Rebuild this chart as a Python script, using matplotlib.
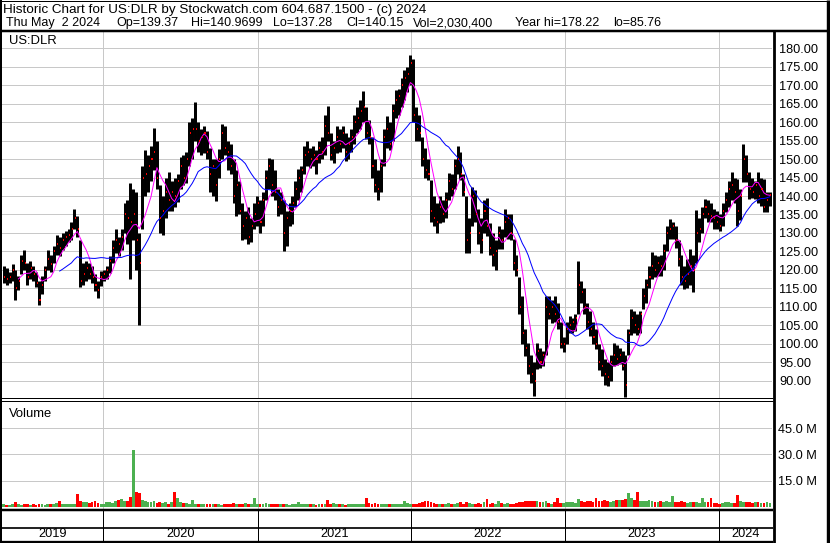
import matplotlib
matplotlib.use('Agg')
import matplotlib.pyplot as plt
import matplotlib.dates as mdates
from matplotlib.collections import LineCollection
import pandas as pd

plt.rcParams['font.family'] = ['Liberation Sans', 'DejaVu Sans']

W, H = 830, 543

# weekly bars, last bar is Thu May 2 2024
week_hi = [
    121, 120.5, 119.5, 121.5, 120, 118.5, 124, 125.5, 122, 122.5,
    121, 119.5, 117, 118.5, 121, 125.5, 124, 126.5, 129.5, 129,
    130, 130.5, 131, 133, 136.5, 134.5, 128, 122, 122.5, 122,
    121, 118.8, 117, 119.7, 120.1, 121, 123.7, 128.2, 131, 129,
    131, 138, 139, 143.5, 141.8, 141, 130, 148, 152.5, 151,
    153.5, 158.5, 155, 143, 140, 145,
    146.5, 144, 145, 146, 150.5, 151, 152, 160, 161, 165.5,
    160, 158, 159, 157.5, 153, 150, 150, 152.7, 159.5, 159,
    155, 154, 150, 147, 144, 138, 136, 137, 134, 138,
    140, 139, 141, 147, 150.4, 150, 147, 142, 141, 139,
    136, 138, 140, 144, 147.3, 148, 153.5, 155, 153, 153.5,
    152.5, 155,
    156, 162, 164.2, 157, 155, 158.8, 158, 159, 157, 156,
    158, 162, 164, 166, 168.3, 164, 160.6, 156, 150, 147,
    150, 158, 161.5, 160, 165, 168.7, 169, 172, 174, 175,
    178.2, 177, 164, 162, 156, 153, 150, 144.4, 140, 138,
    140, 139, 141, 146.2, 146, 150, 153.4, 152, 146, 140,
    134, 142.3, 141.7,
    136.4, 134, 139, 139.5, 132.8, 130, 128, 132, 131, 136.4,
    135, 135, 128.3, 124, 118, 113, 104, 100.4, 97, 95,
    100.4, 99, 98, 113, 113, 112, 113, 111, 106, 102,
    106, 107.6, 107, 108, 122.4, 117, 115, 111, 109, 106,
    104, 100, 98.6, 96, 95, 97, 100.4, 99.6, 99, 98,
    97, 104.1,
    109.5, 109, 108, 109, 115, 117.6, 121, 124.8, 124, 123.9,
    124, 127, 132, 133.8, 133, 132, 128, 124, 121, 123,
    125.7, 124, 136.1, 134, 137, 139.2, 139, 138, 136.5, 136,
    135, 138, 141, 144, 146.4, 145, 144.6, 142, 154.1, 151,
    146.4, 145, 144, 146.4, 145, 144.6, 141, 141.0,
]
week_lo = [
    116.5, 116, 116.5, 117, 112, 114.5, 119, 120, 116, 117.5,
    117, 115.5, 110.5, 113.5, 117, 120, 119.5, 122, 124, 123.7,
    125.5, 126.5, 127.5, 128, 131, 129, 115.5, 116, 117, 117.5,
    116.5, 114.3, 112.5, 115.6, 117, 117.5, 119.3, 122, 124.6, 123.7,
    125.5, 130, 127, 117.5, 128, 120, 105, 131, 140, 141,
    144, 147, 141.8, 130, 129.5, 134,
    136, 136, 137, 138.5, 142, 143, 143.5, 148, 150, 155,
    152, 151, 151.5, 150, 141, 140, 138.7, 145, 150, 151,
    147, 146, 138, 134.5, 135, 128, 128.5, 127, 127.5, 131,
    132, 130, 132, 139, 142, 140, 139, 134.5, 135, 125,
    126.5, 132, 132.5, 137, 139, 141, 146, 148, 147.5, 148,
    146, 149,
    150, 151, 155, 149.8, 149, 151.6, 152, 153, 149.5, 150,
    152, 154, 157, 158, 160, 155.5, 154, 145, 141, 139,
    141, 148, 153, 152.5, 155, 161, 162, 164, 166, 168,
    170, 160, 155, 155, 148, 145, 144.4, 133, 131.8, 130,
    132.7, 133, 134, 139, 140, 142, 146, 144.4, 140, 124.6,
    124.7, 132, 133,
    127, 124.7, 130, 129.2, 124, 121, 120, 125.6, 125.6, 129,
    128.3, 128, 120, 118.4, 108, 100, 96.8, 92, 89.5, 86,
    93.2, 93.5, 94, 97, 106.7, 105.8, 106, 104, 99, 97.7,
    100, 103.1, 103, 103.5, 108, 111.2, 108, 104, 102.2, 100,
    98.6, 93, 91.4, 89, 88.6, 90, 94, 94.2, 94.5, 93,
    85.8, 96.9,
    102.3, 103, 102.5, 103, 109.5, 111, 115, 117.6, 118, 118.5,
    118.5, 120, 125, 128.4, 128.5, 126, 121, 116, 114.9, 115,
    116, 114, 122, 127.5, 130, 134, 133, 132.9, 131.1, 131,
    130.5, 132, 135.6, 137, 139, 138, 132, 133.5, 143.7, 143.7,
    139.2, 139.5, 139.2, 138, 137.4, 135.6, 135.6, 137.28,
]
week_cl = [
    118, 117.5, 118, 120, 115, 117, 122.5, 122, 118, 120.5,
    119, 116.5, 112, 116, 120, 123, 121.5, 125, 127, 126,
    128, 129, 129.5, 131, 134, 131, 117, 119, 120.5, 119,
    118, 116, 114.5, 118, 119, 120, 122.5, 126, 128, 127,
    129, 135, 134, 133, 135, 128, 122, 145, 146, 148,
    150, 152, 145, 134, 136, 141,
    139, 141, 140, 144, 148, 145, 150, 157, 158, 158,
    155, 156, 157, 152, 146, 148, 143, 150, 157, 153,
    152, 148, 140, 143, 136, 132, 134, 129, 132, 135,
    138, 133, 139, 145, 148, 143, 141, 137, 139, 130,
    134, 136, 138, 142, 145, 147, 151, 152, 150, 151,
    150, 153,
    152, 159, 157, 151, 153, 156, 154, 157, 152, 154,
    156, 160, 161, 163, 164, 157, 156, 148, 143, 142,
    148, 156, 158, 154, 163, 166, 167, 170, 172, 173,
    176, 162, 158, 157, 150, 147, 146, 136, 134, 133,
    137, 135, 139, 144, 142, 148, 150, 146, 141, 128,
    130, 140, 135,
    130, 128, 136, 132, 126, 124, 125, 130, 128, 133,
    134, 130, 122, 120, 110, 103, 99, 94, 92, 90,
    98, 95, 97, 110, 108, 110, 108, 106, 100, 100,
    104, 105, 106, 107, 116, 114, 110, 106, 104, 102,
    100, 95, 94, 92, 91, 95, 97, 96, 97, 94,
    89, 103,
    107, 105, 104, 108, 113, 116, 118, 121, 120, 122,
    121, 125, 130, 131, 132, 128, 123, 118, 117, 119,
    121, 120, 130, 131, 135, 137, 135, 134.5, 134, 133,
    132, 136, 139, 142, 143, 141, 136, 140, 150, 146,
    142, 141, 143, 140, 142, 137, 139, 140.15,
]
# volume in millions
week_vol = [
    1.5, 1.2, 1.4, 1.8, 2.6, 1.6, 1.4, 1.8, 1.5, 1.3,
    1.6, 1.4, 1.8, 1.5, 1.3, 1.7, 1.9, 1.6, 2.2, 3.2,
    2.0, 1.8, 1.6, 1.5, 2.0, 7.4, 3.2, 2.6, 3.0, 2.4,
    2.8, 3.2, 2.2, 1.9, 1.6, 2.6, 3.0, 2.4, 3.5, 4.0,
    4.4, 3.6, 3.2, 5.6, 32.6, 8.8, 8.0, 4.0, 3.5, 3.0,
    2.6, 3.5, 2.4, 2.8, 2.2, 2.6, 2.0, 3.0, 8.5, 5.3,
    3.0, 2.2, 2.4, 2.0, 3.9, 2.0, 1.8, 1.6, 1.5, 1.8,
    2.0, 1.6, 1.8, 1.5, 1.4, 2.0, 1.6, 1.8, 2.2, 1.7,
    1.5, 1.8, 2.4, 2.0, 1.6, 5.3, 1.8, 2.0, 1.9, 2.2,
    2.0, 1.6, 1.8, 1.5, 2.0, 1.7, 1.5, 1.4, 1.6, 1.8,
    2.6, 1.8, 1.6, 1.5, 1.7, 1.9, 1.4, 1.6, 1.5, 2.0,
    3.9, 1.8, 2.2, 1.6, 1.5, 1.7, 1.4, 1.6, 1.5, 1.8,
    2.0, 1.6, 1.5, 5.3, 2.4, 2.0, 2.2, 1.8, 1.6, 1.5,
    1.8, 1.7, 1.6, 1.5, 1.9, 1.6, 3.2, 2.2, 1.8, 2.0,
    1.8, 2.5, 3.0, 3.5, 3.2, 2.6, 2.2, 1.8, 2.0, 1.7,
    1.6, 2.4, 2.0, 1.8, 2.2, 2.6, 2.0, 2.8, 2.4, 2.0,
    1.8, 2.2, 2.0, 2.6, 4.4, 2.0, 2.4, 1.8, 3.5, 2.2,
    1.8, 2.2, 2.0, 1.9, 2.2, 2.6, 3.0, 3.4, 3.5, 3.6,
    3.5, 3.2, 3.0, 2.6, 3.4, 2.4, 2.0, 2.8, 5.3, 2.2,
    2.4, 2.6, 3.0, 2.8, 2.4, 4.4, 3.6, 3.0, 3.2, 3.5,
    3.0, 5.3, 3.5, 3.2, 4.0, 3.6, 3.0, 3.4, 3.8, 4.2,
    4.0, 4.5, 8.0, 5.3, 4.0, 8.5, 3.6, 3.2, 3.6, 4.0,
    3.2, 2.8, 3.0, 3.4, 2.8, 3.6, 3.0, 6.2, 2.6, 2.8,
    3.2, 2.6, 2.4, 2.8, 2.6, 3.0, 2.4, 4.9, 2.8, 2.6,
    5.3, 2.4, 2.2, 2.0, 2.4, 2.6, 2.8, 2.4, 2.2, 6.7,
    3.4, 3.0, 2.8, 2.6, 2.4, 2.8, 2.6, 2.2, 2.4, 2.6,
    2.03,
]
years = [2019, 2020, 2021, 2022, 2023, 2024]
price_ticks = list(range(90, 185, 5))
vol_ticks = [15, 30, 45]

dates = pd.date_range(end='2024-05-02', periods=len(week_cl), freq='7D')
x = mdates.date2num(dates)
close = pd.Series(week_cl, index=dates)
ma_fast = close.rolling(6).mean()
ma_slow = close.rolling(20).mean()
up = close.diff().fillna(0) >= 0
vol_colors = ['#4cb050' if u else '#ff0000' for u in up]

x0 = mdates.date2num(pd.Timestamp('2019-05-05'))
x1 = mdates.date2num(pd.Timestamp('2024-05-07'))
year_lines = [mdates.date2num(pd.Timestamp(f'{y}-01-01')) for y in years[1:]]

fig = plt.figure(figsize=(W / 100, H / 100), dpi=100)


def box(left, top, right, bottom):
    return [left / W, 1 - bottom / H, (right - left) / W, (bottom - top) / H]


PX = 0.72  # one pixel in points
grid_kw = dict(color='#c8c8c8', lw=1 * PX, zorder=0)

# price panel
ax = fig.add_axes(box(2, 31, 772, 398))
ax.set_xlim(x0, x1)
ax.set_ylim(85.4, 184.6)
for p in price_ticks:
    ax.axhline(p, **grid_kw)
for yl in year_lines:
    ax.axvline(yl, **grid_kw)

segs = [[(xi, lo), (xi, hi)] for xi, hi, lo in zip(x, week_hi, week_lo)]
ax.add_collection(LineCollection(segs, colors='black', linewidths=2.15, zorder=2))
ax.plot(x, ma_fast.values, color='#ff00ff', lw=1 * PX, zorder=3)
ax.plot(x, ma_slow.values, color='#0000ff', lw=1 * PX, zorder=3)
ticks = [[(xi + 1.0, c), (xi + 3.5, c)] for xi, c in zip(x, week_cl)]
ax.add_collection(LineCollection(ticks, colors='#ff0000', linewidths=1.4, zorder=4))

ax.set_yticks(price_ticks)
ax.set_yticklabels([f'{p:.2f}' for p in price_ticks])
ax.yaxis.tick_right()
ax.tick_params(axis='y', length=0, pad=5.0, labelsize=9.2)
ax.tick_params(axis='x', bottom=False, labelbottom=False)
for s in ax.spines.values():
    s.set_visible(False)
ax.text(0.009, 0.972, 'US:DLR', transform=ax.transAxes, fontsize=9.4,
        va='center', ha='left')

# volume panel
axv = fig.add_axes(box(2, 400.5, 772, 509.5))
axv.set_xlim(x0, x1)
axv.set_ylim(-1.4, 60.7)
for v in vol_ticks:
    axv.axhline(v, **grid_kw)
for yl in year_lines:
    axv.axvline(yl, **grid_kw)
axv.bar(x, week_vol, width=6.6, color=vol_colors, linewidth=0, zorder=2)
axv.set_yticks(vol_ticks)
axv.set_yticklabels([f'{v:.1f} M' for v in vol_ticks])
axv.yaxis.tick_right()
axv.tick_params(axis='y', length=0, pad=4.5, labelsize=9.2)
axv.tick_params(axis='x', bottom=False, labelbottom=False)
for s in axv.spines.values():
    s.set_visible(False)
axv.text(0.009, 0.88, 'Volume', transform=axv.transAxes, fontsize=9.4,
         va='center', ha='left')

# year band
axy = fig.add_axes(box(2, 510, 772, 542))
axy.set_xlim(x0, x1)
axy.set_ylim(0, 1)
axy.axis('off')
for yl in year_lines:
    axy.axvline(yl, color='black', lw=1 * PX)
bounds = [x0] + year_lines + [x1]
for y, a, b in zip(years, bounds[:-1], bounds[1:]):
    axy.text((a + b) / 2, 0.24, str(y), fontsize=9.2, ha='center', va='center')

# frame lines and header drawn in pixel space
fr = fig.add_axes([0, 0, 1, 1])
fr.set_xlim(0, W)
fr.set_ylim(H, 0)
fr.axis('off')
fr.patch.set_alpha(0)


def hl(y, a, b, w):
    fr.plot([a, b], [y, y], color='black', lw=w * PX, solid_capstyle='butt')


def vl(xp, a, b, w):
    fr.plot([xp, xp], [a, b], color='black', lw=w * PX, solid_capstyle='butt')


hl(0.5, 0, W, 1)
hl(30.7, 0, W, 2.5)
hl(398.3, 0, 773, 1)
hl(400.7, 0, 773, 1)
hl(510.3, 0, 773, 2.5)
hl(527.5, 0, 773, 1.7)
hl(541.8, 0, 773, 2.3)
vl(1, 0, H, 2)
vl(773.6, 31, H, 2.8)
vl(828.3, 0, H, 3.4)

fr.text(3, 9.5, 'Historic Chart for US:DLR by Stockwatch.com 604.687.1500 - (c) 2024',
        fontsize=9.7, va='center', ha='left')
header = [(6, 'Thu May  2 2024'), (116, 'Op=139.37'), (190.5, 'Hi=140.9699'),
          (272.5, 'Lo=137.28'), (346.5, 'Cl=140.15'), (413, 'Vol=2,030,400'),
          (515, 'Year hi=178.22'), (613, 'lo=85.76')]
for xp, t in header:
    fr.text(xp, 23, t, fontsize=9.0, va='center', ha='left')

fig.savefig('out.png', dpi=100)
